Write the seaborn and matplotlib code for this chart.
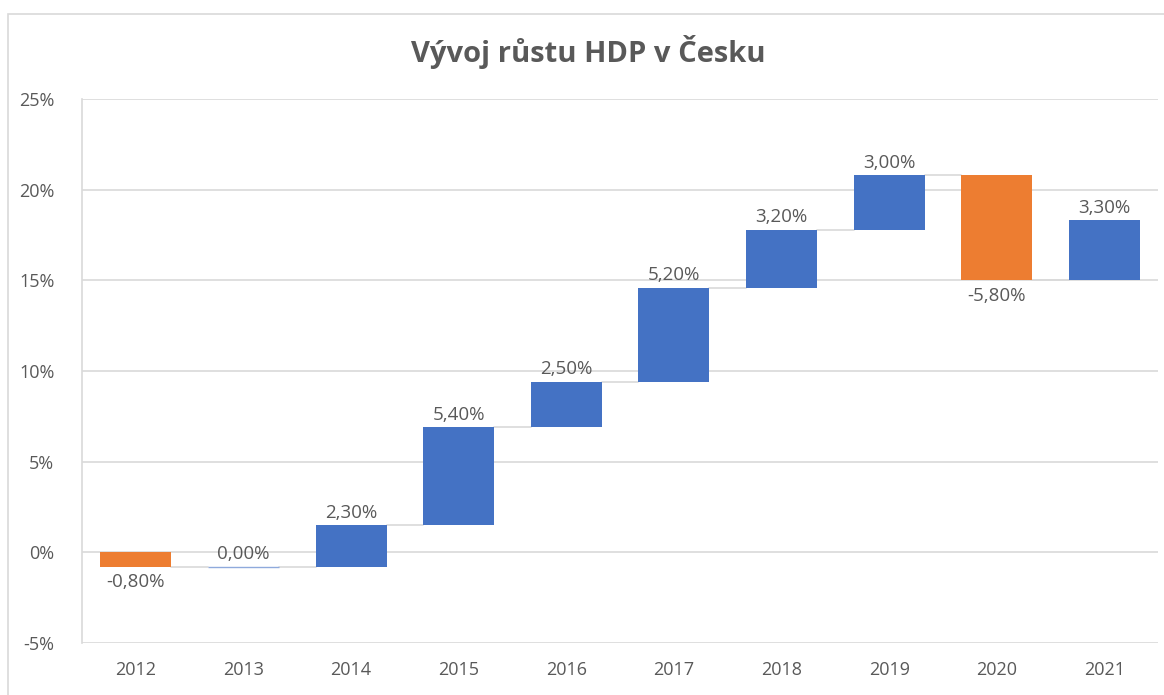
import matplotlib
matplotlib.use('Agg')

from matplotlib import pyplot as plt
from matplotlib.patches import Rectangle
from matplotlib.ticker import FuncFormatter
import seaborn as sns
import numpy as np

# data (annual GDP growth, %)
years = ['2012', '2013', '2014', '2015', '2016', '2017', '2018', '2019', '2020', '2021']
growth = [-0.8, 0.0, 2.3, 5.4, 2.5, 5.2, 3.2, 3.0, -5.8, 3.3]

blue = '#4472C4'
orange = '#ED7D31'
text_col = '#595959'
grid_col = '#D9D9D9'

sns.set_style('white')
plt.rcParams['font.family'] = ['Open Sans', 'DejaVu Sans']

ends = np.cumsum(growth)
starts = ends - np.array(growth)

fig = plt.figure(figsize=(11.64, 6.95), dpi=100)
ax = fig.add_axes([0.0705, 0.0748, 0.9245, 0.7828])

sns.barplot(x=years, y=growth, bottom=starts, color=blue, width=0.66,
            errorbar=None, saturation=1, ax=ax, zorder=3)

patches = ax.patches
for p, g in zip(patches, growth):
    p.set_facecolor(orange if g < 0 else blue)
    p.set_edgecolor('none')
    if g == 0:
        # zero change still shows as a thin bar
        p.set_edgecolor('#8FAADC')
        p.set_linewidth(1)

# connector lines
for i in range(len(patches) - 1):
    x0 = patches[i].get_x() + patches[i].get_width()
    x1 = patches[i + 1].get_x()
    ax.plot([x0, x1], [ends[i], ends[i]], color=grid_col, lw=1.2, zorder=2)

# labels
for p, g, s, e in zip(patches, growth, starts, ends):
    xc = p.get_x() + p.get_width() / 2
    lbl = f"{g:.2f}%".replace('.', ',')
    if g < 0:
        ax.text(xc, min(s, e) - 0.35, lbl, ha='center', va='top', fontsize=13.5, color=text_col)
    else:
        ax.text(xc, max(s, e) + 0.2, lbl, ha='center', va='bottom', fontsize=13.5, color=text_col)

ax.set_ylim(-5, 25)
ax.set_yticks(range(-5, 26, 5))
ax.yaxis.set_major_formatter(FuncFormatter(lambda v, pos: f"{v:.0f}%"))
ax.set_xlim(-0.5, len(years) - 0.5)
ax.grid(axis='y', color=grid_col, lw=1.2, zorder=0)
ax.set_axisbelow(True)
for side in ['top', 'right', 'bottom']:
    ax.spines[side].set_visible(False)
ax.spines['left'].set_color(grid_col)
ax.spines['left'].set_linewidth(1.2)
ax.tick_params(axis='both', length=0, labelsize=13, colors=text_col)
ax.tick_params(axis='x', pad=13)
ax.tick_params(axis='y', pad=20)
ax.set_xlabel('')
ax.set_ylabel('')

fig.text(0.505, 0.925, 'Vývoj růstu HDP v Česku', ha='center', va='center',
         fontsize=21, fontweight='bold', color=text_col)

# chart frame
fig.patches.append(Rectangle((8 / 1164, -0.01), 1.0, 1 - 14 / 695 + 0.01, transform=fig.transFigure,
                             fill=False, edgecolor=grid_col, lw=1.2))

plt.savefig('out.png', dpi=100)
